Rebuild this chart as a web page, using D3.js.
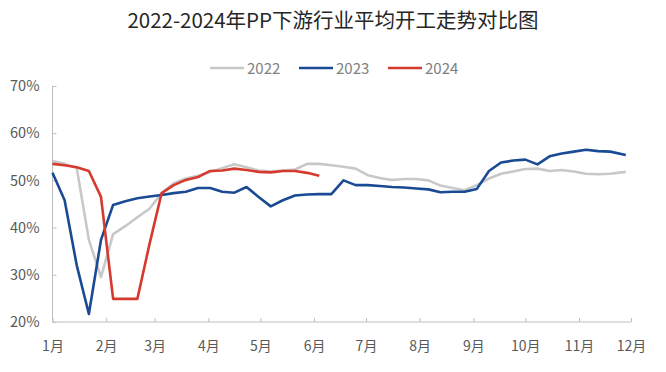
<!DOCTYPE html>
<html lang="zh">
<head>
<meta charset="UTF-8">
<title>PP下游行业平均开工</title>
<script src="https://cdn.jsdelivr.net/npm/d3@7"></script>
<style>
  body { margin: 0; background: #fff; }
  svg text { font-family: "Noto Sans CJK SC", "Noto Sans", sans-serif; }
</style>
</head>
<body>
<svg id="chart" width="666" height="372"></svg>
<script>
// 周度日期（按同一年份定位，月-日）
var dates = ["01-01","01-08","01-15","01-22","01-29","02-05","02-12","02-19","02-26",
  "03-05","03-12","03-19","03-26","04-02","04-09","04-16","04-23","04-30",
  "05-07","05-14","05-21","05-28","06-04","06-11","06-18","06-25",
  "07-02","07-09","07-16","07-23","07-30","08-06","08-13","08-20","08-27",
  "09-03","09-10","09-17","09-24","10-01","10-08","10-15","10-22","10-29",
  "11-05","11-12","11-19","11-28"];

var years = ["2022", "2023", "2024"];
var colors = ["#c8c8c8", "#1a4a94", "#d63a2f"];

var v2022 = [54.1,53.5,52.6,37.4,29.5,38.6,40.3,42.2,44.0,47.3,49.4,50.4,51.0,51.8,52.6,53.4,
  52.8,52.1,51.9,52.1,52.3,53.5,53.5,53.2,52.9,52.5,51.1,50.5,50.1,50.3,50.3,50.0,
  48.9,48.4,47.9,49.0,50.4,51.4,51.9,52.4,52.5,52.0,52.2,51.9,51.4,51.3,51.4,51.8];
var v2023 = [51.6,45.8,32.0,21.7,37.4,44.8,45.6,46.2,46.6,46.9,47.3,47.6,48.4,48.4,47.6,47.4,
  48.6,46.5,44.5,45.8,46.8,47.0,47.1,47.1,50.0,49.0,49.0,48.8,48.6,48.5,48.3,48.1,
  47.5,47.6,47.6,48.2,52.0,53.8,54.2,54.4,53.4,55.1,55.7,56.1,56.5,56.2,56.1,55.4];
var v2024 = [53.5,53.2,52.8,52.0,46.5,24.9,24.9,24.9,36.5,47.3,49.0,50.1,50.7,52.0,52.1,52.5,
  52.2,51.8,51.7,52.0,52.0,51.6,51.0];

var yTicks = [20, 30, 40, 50, 60, 70];
var monthLabels = ["1月","2月","3月","4月","5月","6月","7月","8月","9月","10月","11月","12月"];

var svg = d3.select("#chart");
var parse = d3.timeParse("%Y-%m-%d");
var margin = {left: 52.5, right: 35, top: 86, bottom: 50};
var W = 666, H = 372;

var x = d3.scaleTime()
  .domain([parse("2023-01-01"), parse("2023-12-01")])
  .range([margin.left, W - margin.right]);
var y = d3.scaleLinear().domain([20, 70]).range([H - margin.bottom, margin.top]);

// 标题
svg.append("text").attr("x", 333).attr("y", 28).attr("text-anchor", "middle")
  .attr("font-size", 20.5).attr("fill", "#262626").text("2022-2024年PP下游行业平均开工走势对比图");

// 图例
var legX = [210, 299, 388];
years.forEach(function(yr, i) {
  svg.append("line").attr("x1", legX[i]).attr("x2", legX[i] + 34)
    .attr("y1", 68).attr("y2", 68).attr("stroke", colors[i]).attr("stroke-width", 2.5);
  svg.append("text").attr("x", legX[i] + 37).attr("y", 73.5).attr("font-size", 15)
    .attr("fill", "#7f7f7f").text(yr);
});

// 坐标轴
var months = d3.range(12).map(function(m) { return new Date(2023, m, 1); });
var xAxis = d3.axisBottom(x).tickValues(months).tickSize(-4)
  .tickFormat(function(d, i) { return monthLabels[i]; });
var gx = svg.append("g").attr("transform", "translate(0," + y(20) + ")").call(xAxis);
gx.select(".domain").attr("d", "M" + x.range()[0] + ",0H" + x.range()[1]).attr("stroke", "#bfbfbf");
gx.selectAll(".tick line").attr("stroke", "#bfbfbf");
gx.selectAll(".tick text").attr("y", 19).attr("font-size", 14).attr("fill", "#595959")
  .attr("font-family", "'Noto Sans CJK SC', sans-serif");

var yAxis = d3.axisLeft(y).tickValues(yTicks).tickSize(-4)
  .tickFormat(function(d) { return d + "%"; });
var gy = svg.append("g").attr("transform", "translate(" + margin.left + ",0)").call(yAxis);
gy.select(".domain").attr("d", "M0," + y.range()[0] + "V" + y.range()[1]).attr("stroke", "#bfbfbf");
gy.selectAll(".tick line").attr("stroke", "#bfbfbf");
gy.selectAll(".tick text").attr("x", -13).attr("font-size", 14.5).attr("fill", "#595959")
  .attr("font-family", "'Noto Sans CJK SC', sans-serif");

// 折线
var line = d3.line()
  .x(function(d) { return x(d.date); })
  .y(function(d) { return y(d.value); });

[v2022, v2023, v2024].forEach(function(vals, i) {
  var pts = vals.map(function(v, k) { return {date: parse("2023-" + dates[k]), value: v}; });
  svg.append("path").datum(pts).attr("d", line).attr("fill", "none")
    .attr("stroke", colors[i]).attr("stroke-width", 2.6).attr("stroke-linejoin", "round");
});
</script>
</body>
</html>
